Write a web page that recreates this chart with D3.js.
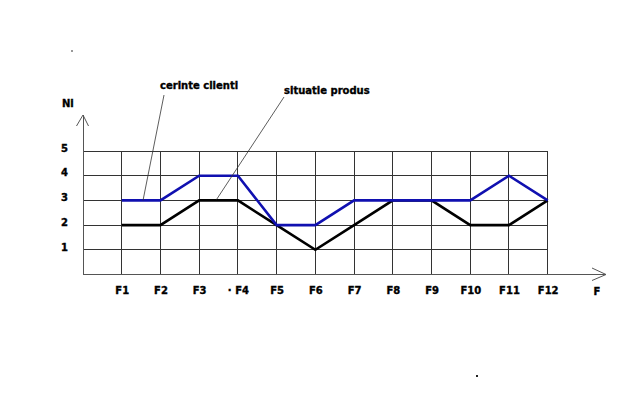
<!DOCTYPE html>
<html>
<head>
<meta charset="utf-8">
<script src="https://cdn.jsdelivr.net/npm/d3@7"></script>
<style>
  body { margin: 0; background: #fff; }
  svg text { font-family: "DejaVu Sans", sans-serif; font-weight: bold; font-size: 10px; fill: #000; stroke: #000; stroke-width: 0.35px; }
</style>
</head>
<body>
<div id="chart"></div>
<script>
// data
var categories = ["F1", "F2", "F3", "F4", "F5", "F6", "F7", "F8", "F9", "F10", "F11", "F12"];
var tickLabels = ["F1", "F2", "F3", "\u00B7 F4", "F5", "F6", "F7", "F8", "F9", "F10", "F11", "F12"];
var cerinteClienti = [3, 3, 4, 4, 2, 2, 3, 3, 3, 3, 4, 3];
var situatieProdus = [2, 2, 3, 3, 2, 1, 2, 3, 3, 2, 2, 3];
var yTicks = [1, 2, 3, 4, 5];

var W = 636, H = 414;

var svg = d3.select("#chart").append("svg")
    .attr("width", W)
    .attr("height", H);

// scales: index 0 is the y axis, F1..F12 at 1..12
var x = d3.scaleLinear().domain([0, 12]).range([83, 547.7]);
var y = d3.scaleLinear().domain([0, 5]).range([274.5, 151]);

// grid
var grid = svg.append("g").attr("stroke", "#333").attr("stroke-width", 1).attr("shape-rendering", "crispEdges");
grid.selectAll(".vl")
    .data(d3.range(1, 13))
    .enter().append("line")
    .attr("x1", function(d) { return x(d); })
    .attr("x2", function(d) { return x(d); })
    .attr("y1", y(5))
    .attr("y2", y(0));
grid.selectAll(".hl")
    .data(yTicks)
    .enter().append("line")
    .attr("x1", x(0))
    .attr("x2", x(12))
    .attr("y1", function(d) { return y(d); })
    .attr("y2", function(d) { return y(d); });

// axes with arrows
var ax = svg.append("g").attr("stroke", "#555").attr("fill", "none").attr("stroke-width", 1);
ax.append("line").attr("x1", x(0)).attr("x2", x(0)).attr("y1", y(0)).attr("y2", 115)
    .attr("shape-rendering", "crispEdges");
ax.append("path").attr("d", "M" + (x(0) - 6.5) + ",126 L" + x(0) + ",115 L" + (x(0) + 5.5) + ",126");
ax.append("line").attr("x1", x(0)).attr("x2", 606).attr("y1", y(0)).attr("y2", y(0))
    .attr("shape-rendering", "crispEdges");
ax.append("path").attr("d", "M592," + (y(0) - 6.5) + " L606," + y(0) + " L592," + (y(0) + 6));

// tick labels
var xAxis = svg.append("g")
    .attr("transform", "translate(0," + (y(0) + 9) + ")")
    .call(d3.axisBottom(x)
        .tickValues(d3.range(1, 13))
        .tickSize(0)
        .tickFormat(function(d) { return tickLabels[d - 1]; }));
xAxis.select(".domain").remove();
xAxis.selectAll("text").attr("font-family", null).attr("font-size", null);

svg.append("text")
    .attr("x", 597)
    .attr("y", y(0) + 20)
    .attr("text-anchor", "middle")
    .text("F");

var yAxis = svg.append("g")
    .attr("transform", "translate(" + (x(0) - 12) + ",-3)")
    .call(d3.axisLeft(y).tickValues(yTicks).tickSize(0).tickFormat(d3.format("d")));
yAxis.select(".domain").remove();
yAxis.selectAll("text").attr("font-family", null).attr("font-size", null);

svg.append("text").attr("x", 62).attr("y", 107).text("Ni");

// series
var line = d3.line()
    .x(function(d, i) { return x(i + 1); })
    .y(function(d) { return y(d); });

svg.append("path")
    .datum(situatieProdus)
    .attr("fill", "none")
    .attr("stroke", "#000")
    .attr("stroke-width", 2.6)
    .attr("d", line);

svg.append("path")
    .datum(cerinteClienti)
    .attr("fill", "none")
    .attr("stroke", "#1010b0")
    .attr("stroke-width", 2.6)
    .attr("d", line);

// callouts
var ann = svg.append("g");
ann.append("line")
    .attr("x1", 164).attr("y1", 95)
    .attr("x2", x(1.55)).attr("y2", y(3))
    .attr("stroke", "#333").attr("stroke-width", 0.8);
ann.append("text").attr("x", 160).attr("y", 89).text("cerinte clienti");

ann.append("line")
    .attr("x1", 284).attr("y1", 97)
    .attr("x2", x(3.45)).attr("y2", y(3) - 1)
    .attr("stroke", "#333").attr("stroke-width", 0.8);
ann.append("text").attr("x", 284).attr("y", 94).text("situatie produs");

// stray specks in the scan
svg.append("rect").attr("x", 71).attr("y", 50).attr("width", 2).attr("height", 2).attr("fill", "#999");
svg.append("rect").attr("x", 476).attr("y", 375).attr("width", 2).attr("height", 2).attr("fill", "#222");
</script>
</body>
</html>
